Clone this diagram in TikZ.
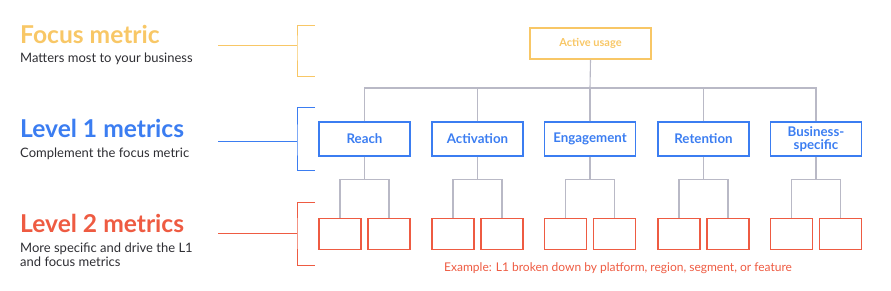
\documentclass[tikz,border=0pt]{standalone}
\usepackage{fontspec}
\usetikzlibrary{calc}
\setmainfont{Lato}
\definecolor{fyellow}{HTML}{F8C766}
\definecolor{fblue}{HTML}{3B7DF1}
\definecolor{fred}{HTML}{EE5B42}
\definecolor{fgray}{HTML}{B9B9C6}
\definecolor{ftext}{HTML}{2E2E33}
\begin{document}
\begin{tikzpicture}[x=1pt,y=-1pt,
  title/.style={anchor=base west,inner sep=0pt,font=\fontsize{24.6}{28}\selectfont\bfseries},
  sub/.style={anchor=base west,inner sep=0pt,font=\fontsize{13}{15}\selectfont,text=ftext},
  bracket/.style={line width=0.9pt},
  link/.style={draw=fgray,line width=1.1pt},
  lone/.style={draw=fblue,line width=1.3pt,minimum width=91pt,minimum height=34pt,inner sep=0pt,text=fblue,font=\fontsize{13.3}{13.5}\selectfont\bfseries,align=center},
  ltwo/.style={draw=fred,line width=1.3pt,minimum width=42pt,minimum height=31pt,inner sep=0pt},
]
\useasboundingbox (0,0) rectangle (891,290);
% left labels
\node[title,text=fyellow] (t0) at (20,43) {Focus metric};
\node[sub] (s0) at (20,62.5) {Matters most to your business};
\node[title,text=fblue] (t1) at (20,137) {Level 1 metrics};
\node[sub] (s1) at (20,157.5) {Complement the focus metric};
\node[title,text=fred] (t2) at (20,232) {Level 2 metrics};
\node[sub] (s2) at (20,252.5) {More specific and drive the L1};
\node[sub] (s2b) at (20,266.5) {and focus metrics};
% brackets
\coordinate (b0l) at (218,45); \coordinate (b0m) at (297,45);
\coordinate (b0t) at (315,25); \coordinate (b0b) at (315,76);
\draw[bracket,draw=fyellow] (b0l) -- (b0m);
\draw[bracket,draw=fyellow] (b0t) -| (b0m) |- (b0b);
\coordinate (b1l) at (218,141); \coordinate (b1m) at (297,141);
\coordinate (b1t) at (315,107); \coordinate (b1b) at (315,170);
\draw[bracket,draw=fblue] (b1l) -- (b1m);
\draw[bracket,draw=fblue] (b1t) -| (b1m) |- (b1b);
\coordinate (b2l) at (218,233); \coordinate (b2m) at (297,233);
\coordinate (b2t) at (315,202); \coordinate (b2b) at (315,265);
\draw[bracket,draw=fred] (b2l) -- (b2m);
\draw[bracket,draw=fred] (b2t) -| (b2m) |- (b2b);
% focus box
\node[draw=fyellow,line width=1.3pt,minimum width=121pt,minimum height=31pt,inner sep=0pt,text=fyellow,font=\fontsize{11}{12}\selectfont\bfseries] (fa) at (590.5,43.5) {Active usage};
% L1 boxes
\node[lone] (l1) at (364.5,139) {Reach};
\node[lone] (l2) at (477.5,139) {Activation};
\node[lone] (l3) at (590,139) {Engagement};
\node[lone] (l4) at (703.5,139) {Retention};
\node[lone] (l5) at (816,139) {Business-\\specific};
\coordinate (hub) at (590,88);
\draw[link] (fa.south) -- (hub);
\draw[link] (l1.north) |- (hub) -| (l5.north);
\foreach \i in {2,3,4} {\draw[link] (l\i.north) -- (l\i.north |- hub);}
% L2 boxes
\foreach \i in {1,...,5} {
  \node[ltwo] (a\i) at ($(l\i.south)+(-24.5,77)$) {};
  \node[ltwo] (c\i) at ($(l\i.south)+(24.5,77)$) {};
  \coordinate (h\i) at ($(l\i.south)+(0,23)$);
  \draw[link] (l\i.south) -- (h\i);
  \draw[link] (a\i.north) |- (h\i) -| (c\i.north);
}
\node[anchor=base west,inner sep=0pt,text=fred,font=\fontsize{12}{14}\selectfont] (ex) at (444,271.5) {Example: L1 broken down by platform, region, segment, or feature};
\end{tikzpicture}
\end{document}
